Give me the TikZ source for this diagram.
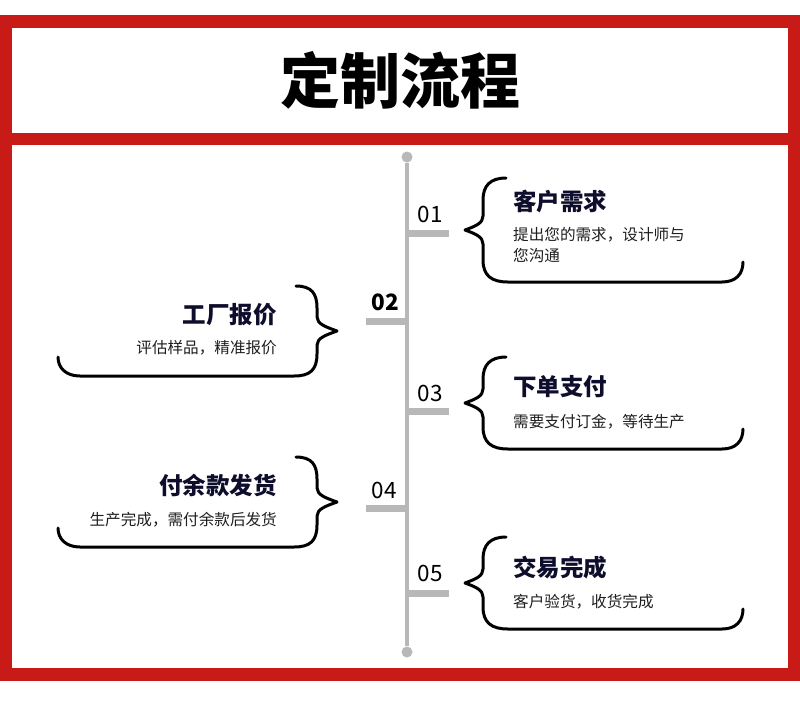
\documentclass[tikz,border=0pt]{standalone}
\usepackage{fontspec}
\setmainfont{Noto Sans CJK SC}
\definecolor{rammerod}{RGB}{200,26,23}
\definecolor{linjegraa}{RGB}{184,184,184}
\definecolor{navy}{RGB}{14,14,44}
\definecolor{tekstgraa}{RGB}{30,30,30}
\begin{document}
\begin{tikzpicture}[x=1pt, y=-1pt, every node/.style={inner sep=0pt},
  tittel/.style={font=\bfseries\fontsize{23.5}{27}\selectfont, text=navy},
  tekst/.style={font=\fontsize{15.6}{21}\selectfont, text=tekstgraa},
  nummer/.style={font=\fontsize{22.5}{26}\selectfont, text=black},
  prikk/.style={circle, fill=linjegraa, minimum size=11pt},
  strek/.style={linjegraa, line width=7pt},
  klamme/.style={line width=3pt, line cap=round, line join=round}]
  \useasboundingbox (0,0) rectangle (800,710);
  % Rød ramme med to hvite felt
  \fill[rammerod] (0,15) rectangle (800,681);
  \fill[white] (12,28) rectangle (788,133);
  \fill[white] (12,145) rectangle (788,668);
  \node[font=\bfseries\fontsize{60}{64}\selectfont] (hode) at (400,80) {定制流程};
  % Tidslinje
  \node[prikk] (topp) at (407,157) {};
  \node[prikk] (bunn) at (407,652) {};
  \draw[linjegraa, line width=4.5pt] (topp) -- (bunn);
  \coordinate (k1) at (407,233); \coordinate (k1e) at (449,233);
  \coordinate (k2) at (407,321); \coordinate (k2e) at (366,321);
  \coordinate (k3) at (407,411); \coordinate (k3e) at (449,411);
  \coordinate (k4) at (407,508); \coordinate (k4e) at (366,508);
  \coordinate (k5) at (407,593); \coordinate (k5e) at (449,593);
  \draw[strek] (k1) -- (k1e);
  \draw[strek] (k2) -- (k2e);
  \draw[strek] (k3) -- (k3e);
  \draw[strek] (k4) -- (k4e);
  \draw[strek] (k5) -- (k5e);
  \node[nummer] (n1) at (430,214) {01};
  \node[nummer, font=\bfseries\fontsize{22.5}{26}\selectfont] (n2) at (385,302) {02};
  \node[nummer] (n3) at (430,393) {03};
  \node[nummer] (n4) at (384,490) {04};
  \node[nummer] (n5) at (430,573) {05};
  % Klammer til høyre
  \foreach \ty/\h in {230/52, 403/46, 583/46}
    \draw[klamme] (506,\ty-\h) .. controls (490,\ty-\h) and (483,\ty-\h+8) .. (483,\ty-\h+22)
      -- (483,\ty-14) .. controls (483,\ty-7) and (476,\ty-4) .. (465,\ty)
      .. controls (476,\ty+4) and (483,\ty+7) .. (483,\ty+14)
      -- (483,\ty+\h-22) .. controls (483,\ty+\h-6) and (492,\ty+\h) .. (508,\ty+\h)
      -- (722,\ty+\h) .. controls (736,\ty+\h) and (743,\ty+\h-8) .. (743,\ty+\h-20);
  % Klammer til venstre
  \foreach \ty/\h in {331/45, 502/45}
    \draw[klamme] (296,\ty-\h) .. controls (312,\ty-\h) and (317,\ty-\h+8) .. (317,\ty-\h+22)
      -- (317,\ty-14) .. controls (317,\ty-7) and (326,\ty-4) .. (337,\ty)
      .. controls (326,\ty+4) and (317,\ty+7) .. (317,\ty+14)
      -- (317,\ty+\h-22) .. controls (317,\ty+\h-6) and (310,\ty+\h) .. (294,\ty+\h)
      -- (80,\ty+\h) .. controls (66,\ty+\h) and (58,\ty+\h-8) .. (58,\ty+\h-19);
  % Tekster
  \node[tittel, anchor=west] (t1) at (513,202) {客户需求};
  \node[tekst, anchor=west, align=left] (d1) at (513,245.5) {提出您的需求，设计师与\\您沟通};
  \node[tittel, anchor=east] (t2) at (277,315) {工厂报价};
  \node[tekst, anchor=east] (d2) at (277,348) {评估样品，精准报价};
  \node[tittel, anchor=west] (t3) at (513,387) {下单支付};
  \node[tekst, anchor=west] (d3) at (513,422) {需要支付订金，等待生产};
  \node[tittel, anchor=east] (t4) at (277,485) {付余款发货};
  \node[tekst, anchor=east] (d4) at (277,520) {生产完成，需付余款后发货};
  \node[tittel, anchor=west] (t5) at (513,568) {交易完成};
  \node[tekst, anchor=west] (d5) at (513,602) {客户验货，收货完成};
\end{tikzpicture}
\end{document}
